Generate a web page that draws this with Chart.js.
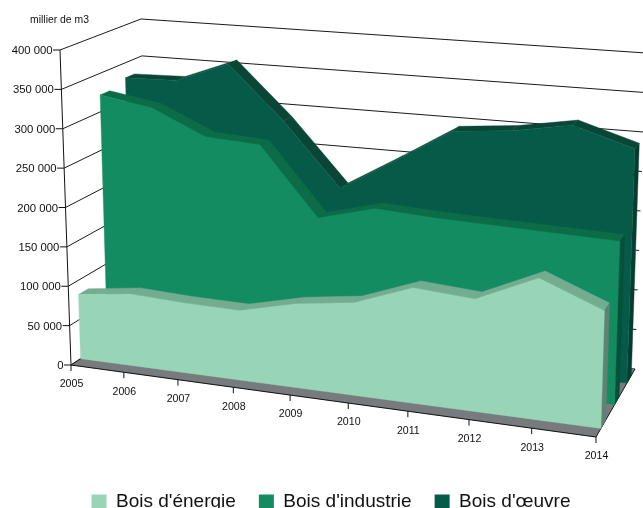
<!DOCTYPE html>
<html><head><meta charset="utf-8">
<style>html,body{margin:0;padding:0;background:#fff;overflow:hidden;width:643px;height:508px}canvas{display:block}</style>
<script src="https://cdn.jsdelivr.net/npm/chart.js@4"></script>
</head><body><canvas id="c" width="643" height="521"></canvas>
<script>
const years = ['2005','2006','2007','2008','2009','2010','2011','2012','2013','2014'];
const boisEnergie = [82000,91000,88000,87000,104000,114000,141000,136000,170000,140000];
const boisIndustrie = [322000,311000,280000,276000,190000,209000,205000,203000,201000,199000];
const boisOeuvre = [330000,332000,359000,290000,209000,251000,295000,302000,315000,292000];
const seriesNames = ["Bois d'énergie","Bois d'industrie","Bois d'œuvre"];
const unitLabel = 'millier de m3';

const faceColors = ['#98D4B6','#128C60','#065A48'];
const topColors = ['#74AC91','#0C6C48','#0A4636'];
const capColors = ['#5F8273','#05503A','#033D30'];
const depthBands = [[0.115,0.235],[0.45,0.57],[0.775,0.895]];
const floorQuad = [[71,365],[596,437],[635,369],[148.4,314]];
const roofQuad = [[60,50],[606,98],[646,53],[141,19]];
const widthWarp = 1.085, widthWarpDepth = 0.05;

function homography(q){
  const [[x0,y0],[x1,y1],[x2,y2],[x3,y3]] = q;
  const dx1=x1-x2,dx2=x3-x2,sx=x0-x1+x2-x3,dy1=y1-y2,dy2=y3-y2,sy=y0-y1+y2-y3;
  const den=dx1*dy2-dx2*dy1, g=(sx*dy2-dx2*sy)/den, h=(dx1*sy-sx*dy1)/den;
  const a=x1-x0+g*x1,b=x3-x0+h*x3,d=y1-y0+g*y1,e=y3-y0+h*y3;
  return (u,w)=>{const k=g*u+h*w+1;return [(a*u+b*w+x0)/k,(d*u+e*w+y0)/k];};
}
const floorH = homography(floorQuad), roofH = homography(roofQuad);
function project(u0,v,w){
  const a=widthWarp+widthWarpDepth*w, u=a*u0/(1+(a-1)*u0);
  const f=floorH(u,w), r=roofH(u,w);
  return [f[0]+(r[0]-f[0])*v, f[1]+(r[1]-f[1])*v];
}
function poly(ctx,pts,fill){
  ctx.beginPath();pts.forEach((p,i)=>i?ctx.lineTo(p[0],p[1]):ctx.moveTo(p[0],p[1]));ctx.closePath();
  ctx.fillStyle=fill;ctx.fill();ctx.strokeStyle=fill;ctx.lineWidth=0.4;ctx.stroke();
}
function seg(ctx,a,b){ctx.beginPath();ctx.moveTo(a[0],a[1]);ctx.lineTo(b[0],b[1]);ctx.stroke();}

const scene3d = {
  id:'scene3d',
  afterDatasetsDraw(chart){
    const ctx=chart.ctx, xs=chart.scales.x, ys=chart.scales.y;
    const U=px=>(px-xs.left)/xs.width, V=py=>(ys.bottom-py)/ys.height;
    ctx.save();
    ctx.strokeStyle='#1a1a1a';ctx.lineWidth=1;
    ys.ticks.forEach(t=>{
      const v=V(ys.getPixelForValue(t.value));
      const fl=project(0,v,0), bl=project(0,v,1), br=project(1,v,1);
      seg(ctx,fl,bl);seg(ctx,bl,br);
    });
    poly(ctx,[project(0,0,0),project(1,0,0),project(1,0,1),project(0,0,1)],'#777B7D');
    ctx.strokeStyle='#1a1a1a';ctx.lineWidth=1;
    seg(ctx,project(0,0,0),project(0,0,1));
    seg(ctx,project(1,0,0),project(1,0,1));
    for(let s=2;s>=0;s--){
      const pts=chart.getDatasetMeta(s).data;
      const [w0,w1]=depthBands[s];
      const uv=pts.map(p=>[U(p.x),V(p.y)]);
      for(let i=0;i<uv.length-1;i++){
        poly(ctx,[project(uv[i][0],uv[i][1],w0),project(uv[i+1][0],uv[i+1][1],w0),
                  project(uv[i+1][0],uv[i+1][1],w1),project(uv[i][0],uv[i][1],w1)],topColors[s]);
      }
      const L=uv[uv.length-1];
      poly(ctx,[project(1,0,w0),project(1,L[1],w0),project(1,L[1],w1),project(1,0,w1)],capColors[s]);
      const face=[project(uv[0][0],0,w0)];
      uv.forEach(q=>face.push(project(q[0],q[1],w0)));
      face.push(project(1,0,w0));
      poly(ctx,face,faceColors[s]);
    }
    ctx.strokeStyle='#111';ctx.lineWidth=1;
    seg(ctx,project(0,1,0),project(0,0,0));
    seg(ctx,project(0,0,0),project(1,0,0));
    ctx.fillStyle='#111';
    ctx.font='11.3px "Liberation Sans"';ctx.textAlign='right';ctx.textBaseline='middle';
    ys.ticks.forEach(t=>{
      const v=V(ys.getPixelForValue(t.value));
      const p=project(0,v,0);
      seg(ctx,[p[0]-7,p[1]],p);
      ctx.fillText(t.label,p[0]-7.5,p[1]+1);
    });
    ctx.font='10.6px "Liberation Sans"';ctx.textAlign='center';
    xs.ticks.forEach((t,i)=>{
      const p=project(U(xs.getPixelForTick(i)),0,0);
      seg(ctx,p,[p[0],p[1]+6]);
      ctx.fillText(t.label,p[0]+0.5,p[1]+19.5);
    });
    ctx.font='10.4px "Liberation Sans"';
    ctx.fillText(unitLabel,59.5,20);
    ctx.restore();
  }
};

Chart.defaults.font.family='"Liberation Sans"';
new Chart(document.getElementById('c'),{
  type:'line',
  data:{labels:years,datasets:[boisEnergie,boisIndustrie,boisOeuvre].map((d,i)=>({
    label:seriesNames[i],data:d,backgroundColor:faceColors[i],borderColor:faceColors[i],
    borderWidth:0,pointRadius:0,showLine:false,fill:false}))},
  options:{
    responsive:false,animation:false,
    layout:{padding:{left:19}},
    scales:{
      x:{type:'category',display:false,offset:false},
      y:{display:false,min:0,max:400000,ticks:{stepSize:50000,callback:v=>String(v).replace(/\B(?=(\d{3})+$)/g,' ')}}
    },
    plugins:{
      tooltip:{enabled:false},
      legend:{position:'bottom',labels:{boxWidth:15,boxHeight:14,padding:23,color:'#111',font:{size:19}}}
    }
  },
  plugins:[scene3d]
});
</script></body></html>
